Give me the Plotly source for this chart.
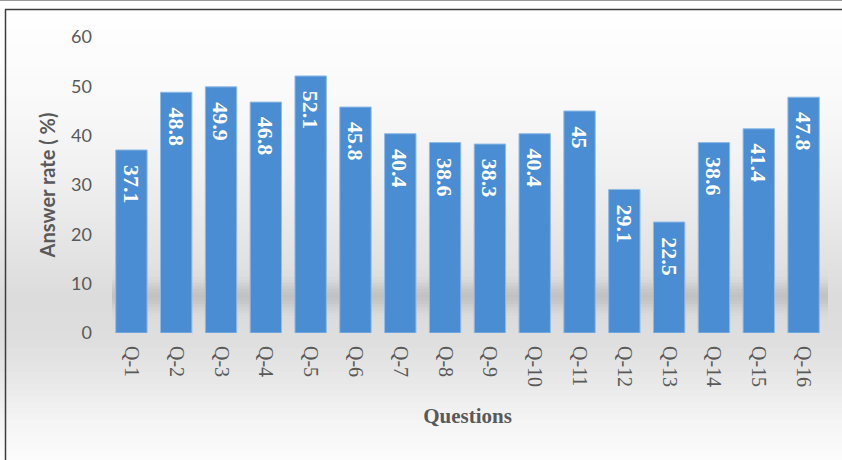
import numpy as np
import plotly.graph_objects as go

questions = ["Q-1", "Q-2", "Q-3", "Q-4", "Q-5", "Q-6", "Q-7", "Q-8",
             "Q-9", "Q-10", "Q-11", "Q-12", "Q-13", "Q-14", "Q-15", "Q-16"]
answer_rate = [37.1, 48.8, 49.9, 46.8, 52.1, 45.8, 40.4, 38.6,
               38.3, 40.4, 45, 29.1, 22.5, 38.6, 41.4, 47.8]
y_ticks = [0, 10, 20, 30, 40, 50, 60]

W_FIG, H_FIG = 842, 460
L, R, T, B = 109, 826, 37, 333
PW, PH = R - L, B - T


def px_x(px):
    return (px - L) / PW


def px_y(py):
    return (B - py) / PH


shapes = []

# soft vertical gray gradient behind the chart
stops_y = [0, 90, 180, 260, 300, 340, 380, 420, 460]
stops_g = [255, 250, 240, 226, 220, 222, 232, 244, 252]
step = 6
for y0 in range(0, H_FIG, step):
    g = int(round(np.interp(y0 + step / 2, stops_y, stops_g)))
    shapes.append(dict(type="rect", xref="paper", yref="paper",
                       x0=px_x(0), x1=px_x(W_FIG), y0=px_y(y0 + step), y1=px_y(y0),
                       fillcolor=f"rgb({g},{g},{g})", line=dict(width=0),
                       layer="below"))

# blurred floor shadow behind the bars
for y0 in range(262, 330, 3):
    a = 0.16 * np.exp(-((y0 + 1.5 - 296) / 13) ** 2)
    shapes.append(dict(type="rect", xref="paper", yref="paper",
                       x0=px_x(112), x1=px_x(828), y0=px_y(y0 + 3), y1=px_y(y0),
                       fillcolor=f"rgba(60,60,60,{a:.3f})", line=dict(width=0),
                       layer="below"))

# frame lines
shapes += [
    dict(type="line", xref="paper", yref="paper", x0=px_x(0), x1=px_x(W_FIG),
         y0=px_y(0.5), y1=px_y(0.5), line=dict(color="#9a9a9a", width=1)),
    dict(type="line", xref="paper", yref="paper", x0=px_x(5), x1=px_x(W_FIG),
         y0=px_y(9.5), y1=px_y(9.5), line=dict(color="#3c3c3c", width=1.5)),
    dict(type="line", xref="paper", yref="paper", x0=px_x(5.5), x1=px_x(5.5),
         y0=px_y(9.5), y1=px_y(H_FIG), line=dict(color="#3c3c3c", width=1.5)),
]

fig = go.Figure()
fig.add_trace(go.Bar(
    x=questions, y=answer_rate,
    marker=dict(color="#4a8dd3", line=dict(color="#8fbbe6", width=1)),
    width=0.7, hoverinfo="x+y",
))

annotations = []
for q, v in zip(questions, answer_rate):
    annotations.append(dict(
        x=q, y=v, xref="x", yref="y", text=f"<b>{v:g}</b>", showarrow=False,
        textangle=90, xanchor="center", yanchor="top", yshift=-13,
        font=dict(family="Liberation Serif", size=22, color="white"),
    ))

fig.update_layout(
    width=W_FIG, height=H_FIG,
    margin=dict(l=L, r=W_FIG - R, t=T, b=H_FIG - B),
    paper_bgcolor="white", plot_bgcolor="rgba(0,0,0,0)",
    shapes=shapes, annotations=annotations, showlegend=False,
    bargap=0.3,
    xaxis=dict(
        tickangle=90, showgrid=False, showline=False, ticks="",
        ticklabelstandoff=12,
        tickfont=dict(family="Liberation Serif", size=20, color="#595959"),
        title=dict(text="<b>Questions</b>", standoff=22,
                   font=dict(family="Liberation Serif", size=21, color="#595959")),
    ),
    yaxis=dict(
        range=[0, 60], tickvals=y_ticks, showgrid=False, showline=False,
        zeroline=False, ticks="", ticklabelstandoff=16,
        tickfont=dict(family="Lato", size=18, color="#595959"),
        title=dict(text="<b>Answer rate ( %)</b>", standoff=10,
                   font=dict(family="Lato", size=20, color="#595959")),
    ),
)

fig.write_html("out.html")
